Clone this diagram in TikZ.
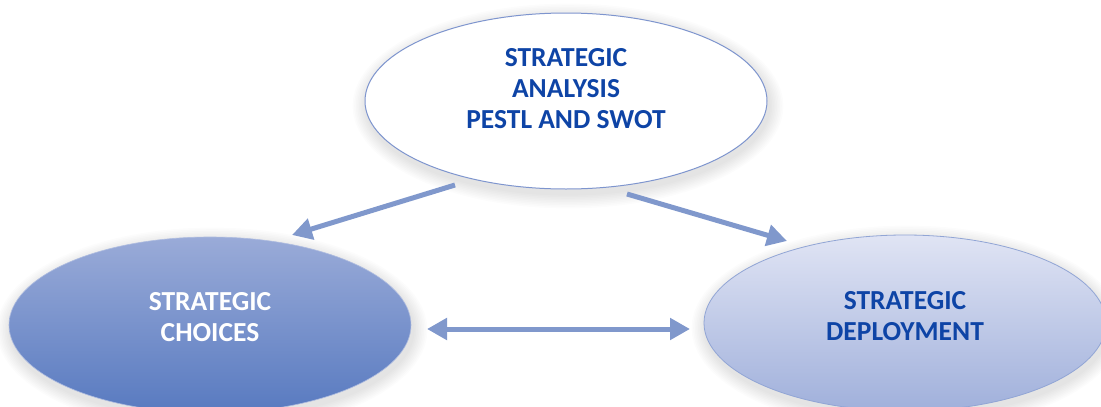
\documentclass[tikz,border=0pt]{standalone}
\usepackage{fontspec}
\setmainfont{Carlito}
\usetikzlibrary{shapes.geometric,arrows.meta,calc,backgrounds}

\definecolor{linkblue}{RGB}{128,152,204}
\definecolor{titleblue}{RGB}{14,68,166}
\definecolor{rimblue}{RGB}{126,149,206}
\definecolor{choiceTop}{RGB}{154,171,216}
\definecolor{choiceBot}{RGB}{88,122,192}
\definecolor{deployTop}{RGB}{224,228,244}
\definecolor{deployBot}{RGB}{160,176,219}

\tikzset{
  stage/.style={ellipse, inner sep=0pt, minimum width=402pt, minimum height=176pt},
  caption/.style={align=center, inner sep=0pt, font=\fontsize{27.5}{31}\selectfont\bfseries},
  link/.style={draw=linkblue, line width=5pt, -{Triangle[length=20pt,width=21pt]}},
  twoway/.style={draw=linkblue, line width=5pt, {Triangle[length=20pt,width=21pt]}-{Triangle[length=20pt,width=21pt]}}
}

% soft halo under an ellipse node: stacked faint rings
\newcommand{\softhalo}[1]{%
  \foreach \k in {1,...,9}
    \fill[black, opacity=0.011] ($(#1.center)+(2,5)$)
      ellipse [x radius=201+1.6*\k, y radius=88+1.6*\k];}

\begin{document}
\begin{tikzpicture}[x=1pt,y=-1pt]
  \useasboundingbox (0,0) rectangle (1101,407);

  % the three stages
  \node[stage, fill=white, draw=rimblue, line width=1pt] (analysis) at (566,101) {};
  \node[stage, top color=choiceTop, bottom color=choiceBot, draw=choiceTop!80!white,
    line width=0.6pt] (choices) at (210,325) {};
  \node[stage, top color=deployTop, bottom color=deployBot, draw=rimblue!85!white,
    line width=0.8pt] (deploy) at (905,323) {};

  \begin{scope}[on background layer]
    \fill[white] (0,0) rectangle (1101,407);
    \softhalo{analysis}
    \softhalo{choices}
    \softhalo{deploy}
  \end{scope}

  % their titles, set a little above each centre
  \node[caption, text=titleblue] (analysisTitle) at ($(analysis.center)+(0,-12)$)
    {STRATEGIC\\ANALYSIS\\PESTL AND SWOT};
  \node[caption, text=white] (choicesTitle) at ($(choices.center)+(0,-8)$)
    {STRATEGIC\\CHOICES};
  \node[caption, text=titleblue] (deployTitle) at ($(deploy.center)+(0,-7)$)
    {STRATEGIC\\DEPLOYMENT};

  % arrow ends, set just off the ellipse rims
  \coordinate (aL) at ($(analysis.center)+(-111,84)$);
  \coordinate (cT) at ($(choices.center)+(82,-90)$);
  \coordinate (aR) at ($(analysis.center)+(61,93)$);
  \coordinate (dT) at ($(deploy.center)+(-118,-82)$);
  \coordinate (cR) at ($(choices.center)+(217,4)$);
  \coordinate (dL) at ($(deploy.center)+(-215,6)$);

  \draw[link] (aL) -- (cT);
  \draw[link] (aR) -- (dT);
  \draw[twoway] (cR) -- (dL);
\end{tikzpicture}
\end{document}
